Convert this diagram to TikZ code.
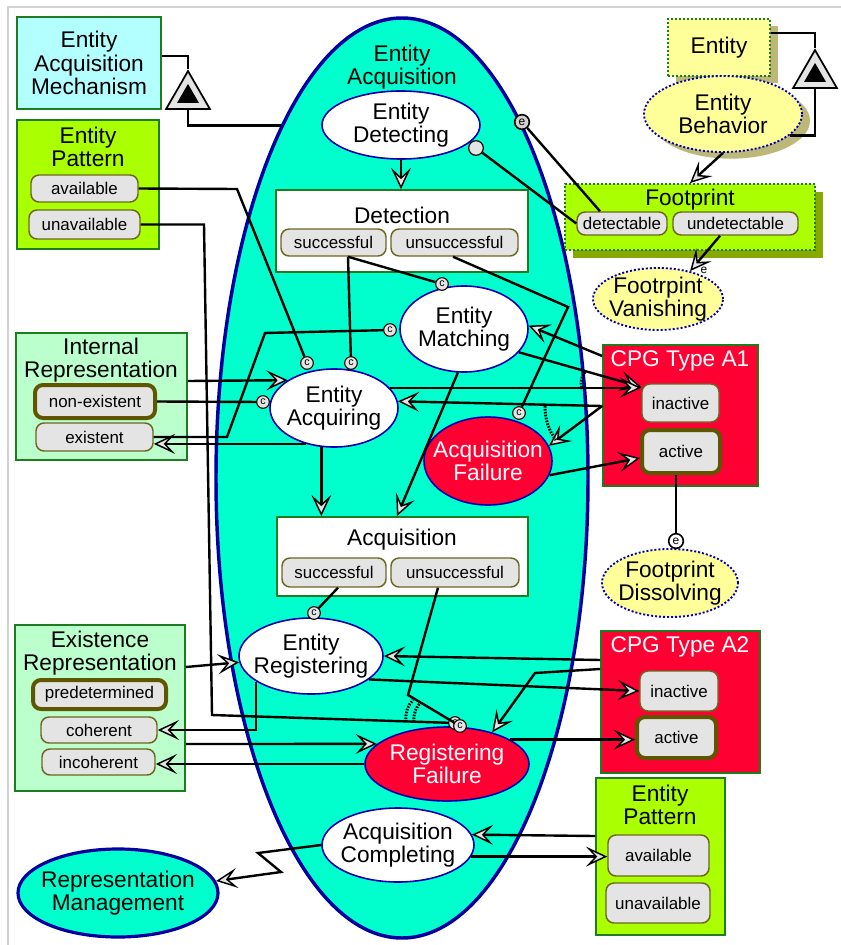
\documentclass[tikz,border=0pt]{standalone}
\usepackage{fontspec}
\setmainfont{Liberation Sans}
\usetikzlibrary{arrows.meta,shapes.geometric,shadows,calc}
\definecolor{aqua}{HTML}{00FFCC}
\definecolor{opmblue}{HTML}{0000A0}
\definecolor{pblue}{HTML}{0000B0}
\definecolor{bgreen}{HTML}{1E7B1E}
\definecolor{lime}{HTML}{AAFF00}
\definecolor{lgreen}{HTML}{BBFFCC}
\definecolor{lcyan}{HTML}{B3FFFF}
\definecolor{cpgred}{HTML}{FF0033}
\definecolor{lyellow}{HTML}{FFFF99}
\definecolor{stfill}{HTML}{E4E4E4}
\definecolor{stline}{HTML}{6E661E}
\definecolor{stthick}{HTML}{5E5600}
\definecolor{fpshadow}{HTML}{88AA00}
\definecolor{yshadow}{HTML}{BDB878}
\newcommand{\mkbox}[7]{\node[#2, minimum width={(#5-(#3))*0.75pt}, minimum height={(#6-(#4))*0.75pt}] (#1) at ({(#3+#5)/2},{(#4+#6)/2}) {#7};}
\begin{document}
\begin{tikzpicture}[x=0.75pt,y=-0.75pt,
 ttl/.style={font=\fontsize{17}{17.6}\selectfont, align=center, inner sep=0pt},
 stt/.style={font=\fontsize{12.7}{14}\selectfont},
 proc/.style={ellipse, draw=pblue, line width=1.2pt, fill=white, inner sep=0pt},
 obj/.style={rectangle, draw=bgreen, line width=1.3pt, inner sep=0pt, ttl},
 state/.style={rectangle, rounded corners=6pt, draw=stline, line width=1.1pt, fill=stfill, inner sep=0pt, stt},
 curstate/.style={state, draw=stthick, line width=3pt},
 link/.style={line width=1.8pt},
 arr/.style={link, -{Stealth[length=16pt,width=15pt,inset=7pt,fill=stfill,line width=1.1pt]}},
 cnd/.style={circle, draw, fill=stfill, line width=0.8pt, minimum size=9.5pt, inner sep=0pt, font=\fontsize{8}{8}\selectfont},
 evt/.style={circle, draw, fill=gray!35, line width=1.2pt, minimum size=11pt, inner sep=0pt, font=\fontsize{9}{9}\selectfont},
 orarc/.style={line width=2.2pt, dash pattern=on 1.2pt off 1pt},
 dotb/.style={dash pattern=on 1.5pt off 1.5pt, line width=1.4pt},
 ysh/.style={drop shadow={shadow xshift=6pt,shadow yshift=-5pt,fill=yshadow,opacity=1}},
 gsh/.style={drop shadow={shadow xshift=6pt,shadow yshift=-6pt,fill=fpshadow,opacity=1}},
 tri/.style={regular polygon, regular polygon sides=3, inner sep=0pt}
]
\useasboundingbox (0,0) rectangle (841,945);
\fill[white] (0,0) rectangle (841,945);
\draw[gray!35, line width=1.5pt] (8,945) -- (8,7) -- (841,7);

% big process
\node[ellipse, draw=opmblue, line width=2.6pt, fill=aqua, minimum width=279pt, minimum height=690pt, inner sep=0pt] (ea) at (402,478) {};
\node[ttl] (eaT) at (402,67) {Entity\\Acquisition};

% objects left
\mkbox{eam}{obj, fill=lcyan}{17}{17}{161}{109}{Entity\\Acquisition\\Mechanism}
\mkbox{ep1}{obj, fill=lime}{17}{120}{159}{249}{}
\node[ttl] (ep1T) at (88,147) {Entity\\Pattern};
\mkbox{ep1a}{state}{31}{175}{138}{202}{available}
\mkbox{ep1u}{state}{29}{210}{140}{239}{unavailable}
\mkbox{ir}{obj, fill=lgreen}{16}{333}{187}{460}{}
\node[ttl] (irT) at (101,360) {Internal\\Representation};
\mkbox{irne}{curstate}{35}{385}{155}{418}{non-existent}
\mkbox{irex}{state}{36}{423}{153}{451}{existent}
\mkbox{er}{obj, fill=lgreen}{15}{625}{185}{791}{}
\node[ttl] (erT) at (100,653) {Existence\\Representation};
\mkbox{erpre}{curstate}{33}{680}{166}{709}{predetermined}
\mkbox{ercoh}{state}{41}{717}{157}{743}{coherent}
\mkbox{erinc}{state}{42}{749}{155}{775}{incoherent}

% objects inside
\mkbox{dtn}{obj, fill=white}{276}{190}{528}{272}{}
\node[ttl] (dtnT) at (402,215) {Detection};
\mkbox{dsu}{state}{281}{229}{386}{256}{successful}
\mkbox{dun}{state}{391}{229}{518}{256}{unsuccessful}
\mkbox{aqn}{obj, fill=white}{277}{517}{528}{596}{}
\node[ttl] (aqnT) at (402,540) {Acquisition};
\mkbox{asu}{state}{282}{558}{386}{587}{successful}
\mkbox{aun}{state}{391}{558}{519}{587}{unsuccessful}

% objects right
\mkbox{cpga}{obj, fill=cpgred}{603}{345}{758}{486}{}
\node[ttl, text=white] (cpgaT) at (680,361) {CPG Type A1};
\mkbox{cain}{state}{642}{384}{719}{422}{inactive}
\mkbox{caac}{curstate}{642}{430}{720}{473}{active}
\mkbox{cpgb}{obj, fill=cpgred}{601}{631}{760}{773}{}
\node[ttl, text=white] (cpgbT) at (680,647) {CPG Type A2};
\mkbox{cbin}{state}{640}{671}{718}{711}{inactive}
\mkbox{cbac}{curstate}{637}{717}{716}{758}{active}
\mkbox{ep2}{obj, fill=lime}{596}{778}{725}{935}{}
\node[ttl] (ep2T) at (660,805) {Entity\\Pattern};
\mkbox{ep2a}{state}{608}{835}{709}{876}{available}
\mkbox{ep2u}{state}{606}{883}{710}{923}{unavailable}
\mkbox{fp}{obj, fill=lime, dotb, gsh}{565}{184}{815}{250}{}
\node[ttl] (fpT) at (690,200) {Footprint};
\mkbox{fdet}{state}{577}{212}{667}{235}{detectable}
\mkbox{fund}{state}{673}{212}{798}{235}{undetectable}
\mkbox{ent}{obj, fill=lyellow, dotb, ysh}{668}{19}{770}{76}{Entity}
\node[ellipse, fill=lyellow, draw=pblue, dotb, ysh, minimum width=118.5pt, minimum height=57pt, inner sep=0pt, label={[ttl]center:Entity\\Behavior}] (eb) at (723,114) {};
\node[ellipse, fill=lyellow, draw=pblue, dotb, minimum width=97.5pt, minimum height=46.5pt, inner sep=0pt, label={[ttl]center:Footrpint\\Vanishing}] (fv) at (658,299) {};
\node[ellipse, fill=lyellow, draw=pblue, dotb, minimum width=102pt, minimum height=51pt, inner sep=0pt, label={[ttl]center:Footprint\\Dissolving}] (fd) at (670,583) {};

% triangles
\node[tri, draw, fill=stfill, line width=1.3pt, minimum size=38pt] (tra) at (188,96.4) {};
\node[tri, fill=black, minimum size=19pt] (traI) at (188,96.6) {};
\node[tri, draw, fill=stfill, line width=1.3pt, minimum size=38pt] (trb) at (815,75.4) {};
\node[tri, fill=black, minimum size=19pt] (trbI) at (815,75.6) {};

% processes
\node[proc, minimum width=118.5pt, minimum height=51pt, label={[ttl]center:Entity\\Detecting}] (det) at (401,125) {};
\node[proc, minimum width=96pt, minimum height=64.5pt, label={[ttl]center:Entity\\Matching}] (mat) at (464,329) {};
\node[proc, minimum width=96pt, minimum height=58.5pt, label={[ttl]center:Entity\\Acquiring}] (acq) at (334,408) {};
\node[proc, fill=cpgred, minimum width=96pt, minimum height=66pt, label={[ttl,text=white]center:Acquisition\\Failure}] (af) at (488,461) {};
\node[proc, minimum width=108pt, minimum height=57pt, label={[ttl]center:Entity\\Registering}] (reg) at (311,656) {};
\node[proc, fill=cpgred, minimum width=123pt, minimum height=55.5pt, label={[ttl,text=white]center:Registering\\Failure}] (rf) at (447,764) {};
\node[proc, minimum width=114pt, minimum height=55.5pt, label={[ttl]center:Acquisition\\Completing}] (ac) at (398,845) {};
\node[proc, fill=aqua, draw=opmblue, line width=2.4pt, minimum width=150pt, minimum height=66pt, label={[ttl]center:Representation\\Management}] (rm) at (118,893) {};

% link end markers
\node[circle, draw, fill=stfill, line width=0.9pt, minimum size=11pt, inner sep=0pt] (ins) at (476,148) {};
\node[evt] (ev1) at (522,122) {e};
\node[evt, fill=white] (ev2) at (676,541) {e};
\node[cnd] (cA1) at (351,363) {c};
\node[cnd] (cA2) at (307,363) {c};
\node[cnd] (cA3) at (263,402) {c};
\node[cnd] (cM1) at (442,284) {c};
\node[cnd] (cM2) at (390,330) {c};
\node[cnd] (cF1) at (519,413) {c};
\node[cnd] (cR1) at (314,613) {c};
\node[cnd] (cRF1) at (455,723) {c};
\node[cnd] (cRF2) at (460,726) {c};
\node[font=\fontsize{9}{9}\selectfont, inner sep=0pt] (elab) at (704,270) {e};

% structural links
\draw[link] (eam.east |- 0,56) -| (tra.north);
\draw[link] (tra.south) |- (ea.109.3);
\draw[link] (ent.east |- 0,33) -| (trb.north);
\draw[link] (trb.south) |- (eb.342.3);

% procedural links
\draw[arr] (det.south) -- (det.south |- dtn.north);
\draw[link] (ins) -- (fdet.west);
\draw[link] (ev1) -- (fdet.north -| 600,0);
\draw[link] (dsu.south -| 348,0) -- (cA1);
\draw[link] (dsu.south -| 348,0) -- (cM1);
\draw[link] (dun.south -| 453,0) -- (568,307) -- (cF1);
\draw[link] (ep1a.east) -- (237,189) -- (cA2);
\draw[link] (ep1u.east) -- (204,224.5) -- (212,715) -- (cRF1);
\draw[arr] (ir.east |- 0,381) -- (acq.149.7);
\draw[link] (irne.east) -- (cA3);
\draw[arr] (acq.232) -- (acq.232 -| irex.east);
\draw[link] (irex.east) -- (227,437) -- (265,333) -- (cM2);
\draw[arr] (mat.262) -- (aqn.north -| 397,0);
\draw[arr] (acq.252.6) -- (acq.252.6 |- aqn.north);
\draw[arr] (cpga.west |- 0,356) -- (mat.3);
\draw[arr] (mat.337.7) -- (cain.west |- 0,387);
\draw[arr] (acq.20) -- (acq.20 -| cain.west);
\draw[arr] (cpga.west |- 0,406) -- (acq.6);
\draw[arr] (cpga.west |- 0,406) -- (af.14.5);
\draw[arr] (af.347.5) -- (caac.west |- 0,458);
\draw[link] (caac.south -| ev2) -- (ev2);
\draw[arr] (cpgb.west |- 0,660) -- (reg.east);
\draw[arr] (cpgb.west |- 0,669) -- (535,673) -- (rf.35);
\draw[arr] (reg.338) -- (cbin.west);
\draw[arr] (rf.21.6) -- (rf.21.6 -| cbac.west);
\draw[link] (asu.south -| 338,0) -- (cR1);
\draw[link] (aun.south -| 438,0) -- (408,695) -- (cRF2);
\draw[arr] (er.east |- 0,667) -- (reg.185);
\draw[arr] (reg.205) |- (ercoh.east);
\draw[arr] (er.east |- 0,744) -- (rf.164);
\draw[arr] (rf.west) -- (rf.west -| erinc.east);
\draw[arr] (ac.351) -- (ac.351 -| ep2a.west);
\draw[arr] (ep2.west |- 0,836) -- (ac.8);
\draw[arr] (ac.west) -- (258,853) -- (281,872) -- (rm.7.5);
\draw[arr] (eb.south) -- (fp.north);
\draw[arr] (fund.south -| 720,0) -- (fv.41);

% OR arcs
\draw[orarc] (545,406) .. controls (545,420) and (549,431) .. (556,440);
\draw[orarc] (585,372) .. controls (581,377) and (580,383) .. (582,389);
\draw[orarc] (406,722) .. controls (405,713) and (408,705) .. (413,700);
\draw[orarc] (414,722) .. controls (413,714) and (416,707) .. (421,702);
\end{tikzpicture}
\end{document}
